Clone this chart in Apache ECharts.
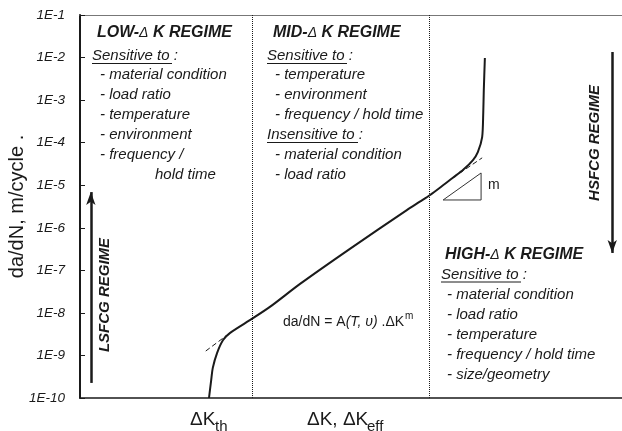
<!DOCTYPE html>
<html>
<head>
<meta charset="utf-8">
<script src="https://cdn.jsdelivr.net/npm/echarts@6/dist/echarts.min.js"></script>
<style>
  html, body { margin: 0; padding: 0; background: #fff; }
  #chart { width: 622px; height: 431px; }
</style>
</head>
<body>
<div id="chart"></div>
<script>
// x = position along the ΔK axis (arbitrary units, 0-10), y = da/dN (m/cycle)
const curveX = [2.38, 2.42, 2.45, 2.53, 2.64, 2.77, 3.17, 3.51, 4.06, 4.98, 6.03, 6.27, 6.46, 6.64, 6.88, 7.07, 7.25, 7.34, 7.42, 7.44, 7.45, 7.47]
const curveY = [1e-10, 2.6e-10, 5.1e-10, 1.15e-9, 2.3e-9, 3.4e-9, 7.2e-9, 1.4e-8, 4.8e-8, 3.2e-7, 2.6e-6, 4.1e-6, 5.9e-6, 8.7e-6, 1.5e-5, 2.3e-5, 3.9e-5, 6.0e-5, 1.35e-4, 5.0e-4, 1.7e-3, 9.8e-3]

// dashed extrapolations of the linear (Paris) part
const lowDashX = [2.32, 2.77]
const lowDashY = [1.27e-9, 3.4e-9]
const highDashX = [6.88, 7.42]
const highDashY = [1.5e-5, 4.4e-5]

// slope triangle
const triX = [6.70, 7.40, 7.40, 6.70]
const triY = [4.5e-6, 4.5e-6, 1.94e-5, 4.5e-6]

// regime boundaries (dotted)
const regimeBounds = [3.17, 6.44]

// regime arrows [x, yFrom, yTo]
const lsfcgArrow = [0.20, 2.26e-10, 6.9e-6]
const hsfcgArrow = [9.82, 1.35e-2, 2.56e-7]

const yMin = 1e-10
const yMax = 1e-1

const INK = '#1a1a1a'
const FAM = '"Liberation Sans", Arial, sans-serif'
const BODY = 'italic 15px ' + FAM

const label = (x, y, text, extra) => {
  const el = { type: 'text', x: x, y: y, silent: true,
    style: { text: text, font: BODY, fill: INK, align: 'left', verticalAlign: 'middle' } }
  if (extra && extra.style) Object.assign(el.style, extra.style)
  if (extra && extra.rotation) el.rotation = extra.rotation
  return el
}
const title = (x, y, pre) => ({
  type: 'text', x: x, y: y, silent: true,
  style: {
    text: '{b|' + pre + '-}{d|Δ}{b| K REGIME}',
    verticalAlign: 'middle',
    rich: {
      b: { fontFamily: FAM, fontStyle: 'italic', fontWeight: 'bold', fontSize: 16, fill: INK },
      d: { fontFamily: FAM, fontStyle: 'italic', fontWeight: 'normal', fontSize: 14, fill: INK }
    }
  }
})
const underline = (x1, x2, y) => ({
  type: 'line', silent: true,
  shape: { x1: x1, y1: y, x2: x2, y2: y },
  style: { stroke: INK, lineWidth: 1 }
})

const graphic = [
  // LOW regime
  title(97, 33, 'LOW'),
  label(92, 56, 'Sensitive to :'),
  underline(92, 172, 63.5),
  label(100, 75, '- material condition'),
  label(100, 95, '- load ratio'),
  label(100, 115, '- temperature'),
  label(100, 135, '- environment'),
  label(100, 155, '- frequency /'),
  label(155, 175, 'hold time'),
  // MID regime
  title(273, 33, 'MID'),
  label(267, 56, 'Sensitive to :'),
  underline(267, 347, 63.5),
  label(275, 75, '- temperature'),
  label(275, 95, '- environment'),
  label(275, 115, '- frequency / hold time'),
  label(267, 135, 'Insensitive to :'),
  underline(267, 358, 142.5),
  label(275, 155, '- material condition'),
  label(275, 175, '- load ratio'),
  // HIGH regime
  title(445, 255, 'HIGH'),
  label(441, 275, 'Sensitive to :'),
  underline(441, 521, 282),
  label(447, 295, '- material condition'),
  label(447, 315, '- load ratio'),
  label(447, 335, '- temperature'),
  label(447, 355, '- frequency / hold time'),
  label(447, 375, '- size/geometry'),
  // rotated regime names
  label(105, 295, 'LSFCG REGIME', { rotation: Math.PI / 2,
    style: { font: 'italic bold 15px ' + FAM, align: 'center' } }),
  label(595, 143, 'HSFCG REGIME', { rotation: Math.PI / 2,
    style: { font: 'italic bold 15px ' + FAM, align: 'center' } }),
  // Paris law
  { type: 'text', x: 283, y: 322, silent: true,
    style: {
      text: '{n|da/dN = A}{i|(T, υ)}{n| .ΔK}',
      verticalAlign: 'middle',
      rich: {
        n: { fontFamily: FAM, fontSize: 14, fill: INK },
        i: { fontFamily: FAM, fontSize: 14, fontStyle: 'italic', fill: INK }
      }
    } },
  label(405, 316, 'm', { style: { font: '10px ' + FAM } }),
  label(488, 185, 'm', { style: { font: '14px ' + FAM } }),
  // x axis labels
  label(190, 420, 'ΔK', { style: { font: '19px ' + FAM } }),
  label(215, 427, 'th', { style: { font: '15px ' + FAM } }),
  label(307, 420, 'ΔK, ΔK', { style: { font: '19px ' + FAM } }),
  label(367, 427, 'eff', { style: { font: '15px ' + FAM } })
]

const toPairs = (xs, ys) => xs.map((x, i) => [x, ys[i]])
const arrowLine = (a) => [{ coord: [a[0], a[1]] }, { coord: [a[0], a[2]] }]

const chart = echarts.init(document.getElementById('chart'))
chart.setOption({
  animation: false,
  grid: { left: 80, right: 0, top: 15, bottom: 33, containLabel: false, outerBoundsMode: 'none' },
  xAxis: [
    {
      type: 'value', min: 0, max: 10, position: 'bottom',
      axisLine: { show: true, lineStyle: { color: INK, width: 1.5 } },
      axisTick: { show: false }, axisLabel: { show: false }, splitLine: { show: false }
    },
    {
      type: 'value', min: 0, max: 10, position: 'top',
      axisLine: { show: true, lineStyle: { color: '#777', width: 1 } },
      axisTick: { show: false }, axisLabel: { show: false }, splitLine: { show: false }
    }
  ],
  yAxis: {
    type: 'log', logBase: 10, min: yMin, max: yMax,
    name: 'da/dN, m/cycle .',
    nameLocation: 'middle',
    nameGap: 53,
    nameMoveOverlap: false,
    nameTextStyle: { fontFamily: FAM, fontSize: 20, color: INK },
    axisLine: { show: true, lineStyle: { color: INK, width: 2 } },
    axisTick: { show: true, inside: true, length: 5, lineStyle: { color: INK } },
    minorTick: { show: false },
    splitLine: { show: false },
    axisLabel: {
      margin: 15, fontFamily: FAM, fontStyle: 'italic', fontSize: 13.5, color: INK,
      formatter: (v) => '1E' + Math.round(Math.log10(v))
    }
  },
  series: [
    {
      name: 'curve', type: 'line', data: toPairs(curveX, curveY),
      showSymbol: false, smooth: 0.25,
      lineStyle: { color: INK, width: 2 },
      markLine: {
        silent: true, symbol: 'none', label: { show: false },
        lineStyle: { color: INK, type: 'dotted', width: 1 },
        data: regimeBounds.map(v => ({ xAxis: v }))
      }
    },
    {
      name: 'lowDash', type: 'line', data: toPairs(lowDashX, lowDashY), showSymbol: false,
      lineStyle: { color: INK, width: 1, type: [5, 3] }
    },
    {
      name: 'highDash', type: 'line', data: toPairs(highDashX, highDashY), showSymbol: false,
      lineStyle: { color: INK, width: 1, type: [5, 3] }
    },
    {
      name: 'triangle', type: 'line', data: toPairs(triX, triY), showSymbol: false,
      lineStyle: { color: '#333', width: 1 }
    },
    {
      name: 'arrows', type: 'line', data: [],
      markLine: {
        silent: true, symbol: ['none', 'arrow'], symbolSize: [7, 13],
        label: { show: false },
        lineStyle: { color: INK, type: 'solid', width: 2.5 },
        data: [arrowLine(lsfcgArrow), arrowLine(hsfcgArrow)]
      }
    }
  ],
  graphic: graphic
})
</script>
</body>
</html>
